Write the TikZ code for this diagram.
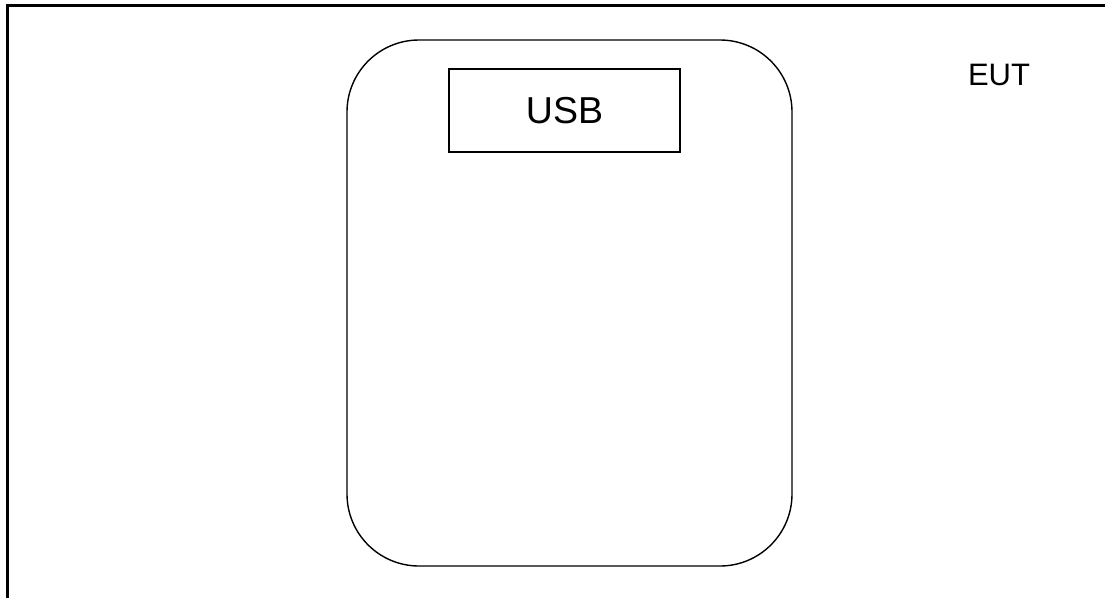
\documentclass[tikz,border=0pt]{standalone}
\usepackage{fontspec}
\setmainfont{Liberation Sans}
\usetikzlibrary{positioning}

\begin{document}
\begin{tikzpicture}[x=1pt,y=-1pt,
  every node/.style={draw,shape=rectangle,inner sep=0pt},
  case/.style={line width=1.4pt,rounded corners=72pt,minimum width=445pt,minimum height=526pt},
  port/.style={line width=1.1pt,minimum width=231pt,minimum height=83pt,font=\fontsize{37.5}{37.5}\selectfont}]
  \useasboundingbox (0,0) rectangle (1105,598);
  \path (569.5,303) node[case] (dev) {} (564.5,110.5) node[port] (usb) {USB}
  (999,75) node[draw=none,font=\fontsize{31}{31}\selectfont] (eut) {EUT};
  \draw[line width=2.2pt] (7.5,598) -- (7.5,5.5) -- (1105,5.5);
  \end{tikzpicture}
\end{document}
